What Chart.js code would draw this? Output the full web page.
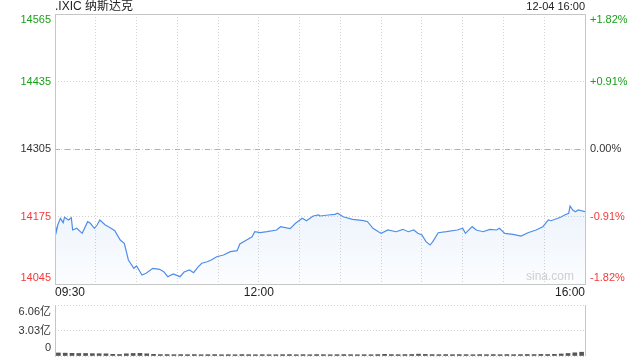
<!DOCTYPE html>
<html>
<head>
<meta charset="utf-8">
<script src="https://cdn.jsdelivr.net/npm/chart.js@4.4.0/dist/chart.umd.min.js"></script>
<style>
  html, body { margin: 0; padding: 0; background: #fff; }
  #wrap { position: relative; width: 640px; height: 360px; }
  canvas { position: absolute; left: 0; }
  #main { top: 0; }
  #vol { top: 300px; }
</style>
</head>
<body>
<div id="wrap">
  <canvas id="main" width="640" height="300"></canvas>
  <canvas id="vol" width="640" height="60"></canvas>
</div>
<script>
// minutes since 09:30
const minutes = [0,1,2,4,6,7,10,12,13,16,20,24,26,29,31,33,37,40,44,48,51,54,58,60,64,67,72,77,80,83,
  87,92,95,99,102,105,108,112,115,119,124,129,134,136,141,145,147,151,156,163,166,173,177,182,185,190,194,195,201,206,
  208,212,219,227,230,234,238,240,245,251,256,260,264,267,270,273,276,278,282,288,296,300,302,307,310,315,320,325,327,331,
  337,343,348,354,359,363,365,372,375,378,379,381,383,385,390];
const prices = [14161.9,14145.7,14158.6,14171.5,14163.1,14173.5,14168.3,14172.7,14149,14152.3,
  14142.6,14165,14161.9,14152.3,14158.6,14168.3,14158.6,14154.2,14147.7,14129.7,
  14123.4,14091.2,14075.2,14079.7,14062.3,14065.6,14075.2,14073.3,14068.7,14059.1,
  14064.3,14059.1,14068.1,14072,14066.8,14077.2,14084.9,14087.9,14091.2,14097.6,
  14100.9,14107.2,14109.1,14122,14129.7,14136.1,14145.7,14143.8,14145.7,14149,
  14155.4,14151.5,14161.9,14171.5,14166.9,14176,14177.9,14176,14177.9,14179.2,
  14181.2,14174.6,14169.6,14166.9,14165,14152.3,14145.7,14142.6,14149,14145.7,
  14150.3,14145.7,14149,14142.6,14139.4,14126.5,14120.1,14126.5,14143.8,14145.7,
  14149,14152.3,14142.6,14155.4,14149,14145.7,14150.3,14149,14152.3,14142.6,
  14140.7,14137.4,14143.8,14149,14155.4,14168.3,14166.9,14173.5,14177.9,14181.2,
  14195.2,14187.5,14184.2,14187.5,14184.2];

const prevClose = 14305;
const priceTicks = [14045, 14175, 14305, 14435, 14565];
const timeLabels = [['09:30', 0], ['12:00', 150], ['16:00', 390]];

// volume per 5 minutes, in 亿
const volumes = [0.36,0.34,0.32,0.3,0.3,0.28,0.27,0.26,0.2,0.18,0.26,0.3,
  0.32,0.26,0.2,0.17,0.17,0.16,0.17,0.16,0.17,0.15,0.16,0.17,
  0.15,0.16,0.15,0.17,0.16,0.15,0.16,0.15,0.15,0.16,0.17,0.15,
  0.16,0.15,0.17,0.16,0.15,0.16,0.17,0.16,0.15,0.16,0.15,0.17,
  0.2,0.17,0.16,0.17,0.18,0.22,0.19,0.17,0.16,0.17,0.16,0.17,
  0.16,0.15,0.17,0.16,0.17,0.16,0.17,0.16,0.17,0.18,0.17,0.19,
  0.18,0.2,0.24,0.3,0.38,0.45];
const volTicks = [['0', 0], ['3.03亿', 3.03], ['6.06亿', 6.06]];

const FONT = 'Arial, "Liberation Sans", "Noto Sans CJK SC", sans-serif';
const GREEN = '#1a9f1a';
const RED = '#f23a3a';
const GRID = '#d2d2d2';
const FRAME = '#c6c6c6';

const mainPlugin = {
  id: 'mainDeco',
  beforeDatasetsDraw(chart) {
    const { ctx, chartArea: a, scales: { y } } = chart;
    const py = Math.round(y.getPixelForValue(prevClose)) + 0.5;
    ctx.save();
    ctx.strokeStyle = '#f3a060';
    ctx.setLineDash([5, 5]);
    ctx.beginPath();
    ctx.moveTo(a.left, py);
    ctx.lineTo(a.right, py);
    ctx.stroke();
    ctx.restore();
  },
  afterDraw(chart) {
    const { ctx, chartArea: a, scales: { x, y } } = chart;
    ctx.save();
    ctx.strokeStyle = FRAME;
    ctx.lineWidth = 1;
    ctx.strokeRect(Math.round(a.left) + 0.5, Math.round(a.top) + 0.5,
      Math.round(a.right - a.left), Math.round(a.bottom - a.top));

    ctx.textBaseline = 'middle';
    ctx.font = '11px ' + FONT;
    priceTicks.forEach(v => {
      let py = y.getPixelForValue(v);
      py = Math.min(Math.max(py, a.top + 6), a.bottom - 6);
      ctx.fillStyle = v > prevClose ? GREEN : (v < prevClose ? RED : '#333');
      ctx.textAlign = 'right';
      ctx.fillText(String(v), a.left - 4, py);
      const pct = (v - prevClose) / prevClose * 100;
      ctx.textAlign = 'left';
      ctx.fillText((pct > 0 ? '+' : '') + pct.toFixed(2) + '%', a.right + 5, py);
    });

    ctx.fillStyle = '#222';
    ctx.font = '12px ' + FONT;
    timeLabels.forEach(([txt, m], i) => {
      ctx.textAlign = i === 0 ? 'left' : (i === timeLabels.length - 1 ? 'right' : 'center');
      ctx.fillText(txt, x.getPixelForValue(m), a.bottom + 9);
    });

    ctx.textAlign = 'left';
    ctx.fillText('.IXIC 纳斯达克', a.left, 7);
    ctx.textAlign = 'right';
    ctx.font = '11px ' + FONT;
    ctx.fillText('12-04 16:00', a.right, 7);

    ctx.fillStyle = '#cfcfcf';
    ctx.font = '12px ' + FONT;
    ctx.fillText('sina.com', a.right - 11, a.bottom - 7);
    ctx.restore();
  }
};

new Chart(document.getElementById('main'), {
  type: 'line',
  data: {
    datasets: [{
      data: minutes.map((m, i) => ({ x: m, y: prices[i] })),
      borderColor: '#4f8ee8',
      borderWidth: 1.2,
      pointRadius: 0,
      tension: 0,
      fill: 'start',
      backgroundColor: (c) => {
        const { ctx, chartArea } = c.chart;
        if (!chartArea) return 'rgba(79,142,232,0.06)';
        const g = ctx.createLinearGradient(0, chartArea.top + 190, 0, chartArea.bottom);
        g.addColorStop(0, 'rgba(79,142,232,0.10)');
        g.addColorStop(1, 'rgba(79,142,232,0.02)');
        return g;
      }
    }]
  },
  options: {
    responsive: false,
    animation: false,
    events: [],
    layout: { padding: { left: 55, right: 55, top: 14, bottom: 16 } },
    plugins: { legend: { display: false }, tooltip: { enabled: false } },
    scales: {
      x: {
        type: 'linear', min: 0, max: 390,
        ticks: { display: false, stepSize: 30 },
        grid: { color: GRID, drawTicks: false },
        border: { display: false, dash: [1, 2] }
      },
      y: {
        min: 14045, max: 14565,
        afterBuildTicks: s => { s.ticks = priceTicks.map(v => ({ value: v })); },
        ticks: { display: false },
        grid: { color: GRID, drawTicks: false },
        border: { display: false, dash: [1, 2] }
      }
    }
  },
  plugins: [mainPlugin]
});

const volPlugin = {
  id: 'volDeco',
  afterDraw(chart) {
    const { ctx, chartArea: a, scales: { y } } = chart;
    ctx.save();
    ctx.strokeStyle = FRAME;
    ctx.lineWidth = 1;
    ctx.beginPath();
    ctx.moveTo(Math.round(a.left) + 0.5, a.top);
    ctx.lineTo(Math.round(a.left) + 0.5, a.bottom);
    ctx.moveTo(Math.round(a.right) + 0.5, a.top);
    ctx.lineTo(Math.round(a.right) + 0.5, a.bottom);
    ctx.stroke();
    ctx.fillStyle = '#333';
    ctx.font = '11px ' + FONT;
    ctx.textAlign = 'right';
    ctx.textBaseline = 'middle';
    volTicks.forEach(([txt, v]) => {
      let py = y.getPixelForValue(v);
      py = Math.min(Math.max(py, a.top + 7), a.bottom - 8);
      ctx.fillText(txt, a.left - 4, py);
    });
    ctx.restore();
  }
};

new Chart(document.getElementById('vol'), {
  type: 'bar',
  data: {
    datasets: [{
      data: volumes.map((v, i) => ({ x: i * 5 + 2.5, y: v })),
      backgroundColor: '#555',
      barThickness: 4
    }]
  },
  options: {
    responsive: false,
    animation: false,
    events: [],
    layout: { padding: { left: 55, right: 55, top: 5, bottom: 4 } },
    plugins: { legend: { display: false }, tooltip: { enabled: false } },
    scales: {
      x: {
        type: 'linear', min: 0, max: 390,
        offset: false,
        display: false
      },
      y: {
        min: 0, max: 6.06,
        afterBuildTicks: s => { s.ticks = volTicks.map(t => ({ value: t[1] })); },
        ticks: { display: false },
        grid: { color: GRID, drawTicks: false },
        border: { display: false, dash: [1, 2] }
      }
    }
  },
  plugins: [volPlugin]
});
</script>
</body>
</html>
